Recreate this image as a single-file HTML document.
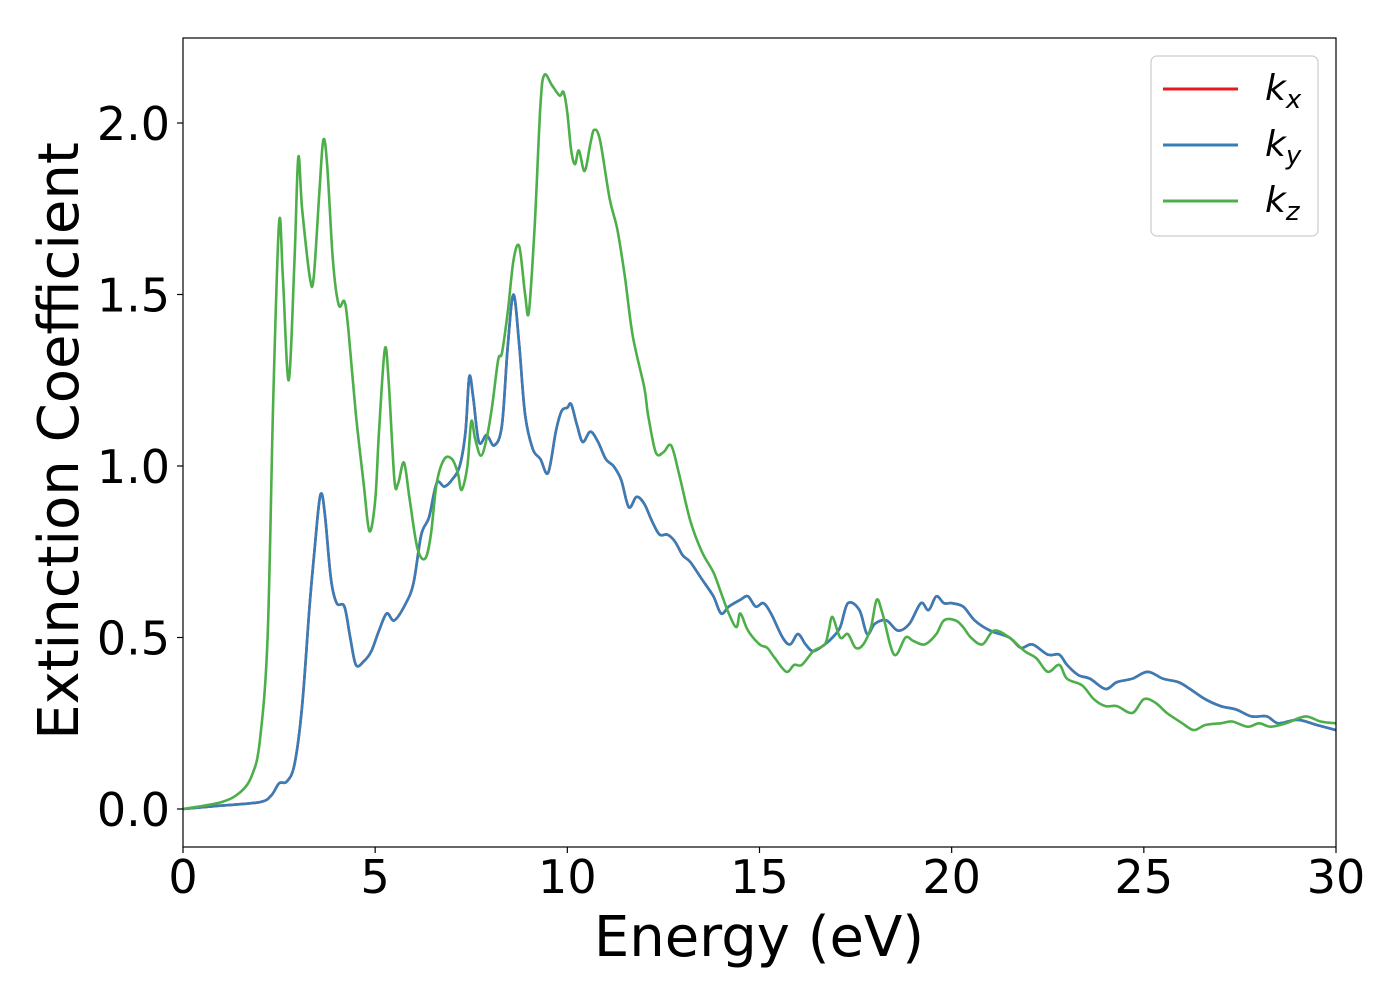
<!DOCTYPE html>
<html><head><meta charset="utf-8"><style>
body{margin:0;background:#fff;}
svg text{font-family:"DejaVu Sans","Liberation Sans",sans-serif;fill:#000;}
</style></head><body>
<svg id="chart" width="1400" height="1000" xmlns="http://www.w3.org/2000/svg">
<rect x="0" y="0" width="1400" height="1000" fill="#fff"/>
<g id="plot"></g>
<g id="axes"></g>
<rect x="183" y="38" width="1153" height="809" fill="none" stroke="#000" stroke-width="1.2"/>
<text x="759" y="956" font-size="56" text-anchor="middle">Energy (eV)</text>
<text transform="translate(78,441) rotate(-90)" font-size="56" text-anchor="middle">Extinction Coefficient</text>
<g>
<rect x="1151" y="56" width="167" height="180" rx="6" fill="#fff" stroke="#ccc" stroke-width="1.2"/>
<line x1="1163" y1="89" x2="1238" y2="89" stroke="#e41a1c" stroke-width="3"/>
<text x="1265" y="100" font-size="36" font-style="italic">k<tspan font-size="26" dy="8">x</tspan></text>
<line x1="1163" y1="145" x2="1238" y2="145" stroke="#377eb8" stroke-width="3"/>
<text x="1265" y="156" font-size="36" font-style="italic">k<tspan font-size="26" dy="8">y</tspan></text>
<line x1="1163" y1="201" x2="1238" y2="201" stroke="#4daf4a" stroke-width="3"/>
<text x="1265" y="212" font-size="36" font-style="italic">k<tspan font-size="26" dy="8">z</tspan></text>
</g>
</svg>
<script>
const xTicks=[0,5,10,15,20,25,30];
const yTicks=[0.0,0.5,1.0,1.5,2.0];
const yTickLabels=["0.0","0.5","1.0","1.5","2.0"];
const kzE=[0,1,1.5,1.8,2.0,2.2,2.35,2.5,2.6,2.75,2.9,3.0,3.1,3.3,3.4,3.55,3.65,3.75,3.9,4.05,4.2,4.3,4.5,4.7,4.85,5.0,5.1,5.25,5.35,5.5,5.6,5.75,5.9,6.1,6.3,6.45,6.6,6.8,7.0,7.15,7.25,7.4,7.5,7.6,7.75,7.9,8.05,8.2,8.3,8.45,8.6,8.75,8.9,9.0,9.15,9.3,9.4,9.6,9.8,9.9,10.0,10.1,10.2,10.3,10.45,10.6,10.7,10.85,11.1,11.3,11.5,11.7,12.0,12.1,12.3,12.5,12.7,12.9,13.2,13.5,13.8,14.0,14.2,14.4,14.5,14.7,15.0,15.2,15.4,15.7,15.9,16.1,16.4,16.7,16.8,16.9,17.1,17.3,17.5,17.7,17.9,18.05,18.2,18.5,18.8,19.0,19.3,19.6,19.8,20.1,20.3,20.5,20.8,21.1,21.5,21.9,22.2,22.5,22.8,23.0,23.4,23.7,24.0,24.3,24.7,25.0,25.3,25.6,26.0,26.3,26.6,27.0,27.3,27.7,28.0,28.3,28.7,29.2,29.6,30];
const kzV=[0,0.02,0.05,0.1,0.2,0.5,1.2,1.71,1.55,1.25,1.6,1.9,1.75,1.55,1.55,1.8,1.95,1.88,1.6,1.47,1.48,1.4,1.15,0.95,0.81,0.9,1.1,1.34,1.25,0.96,0.95,1.01,0.9,0.76,0.73,0.8,0.95,1.02,1.02,0.98,0.93,1.0,1.13,1.08,1.03,1.08,1.18,1.31,1.33,1.45,1.6,1.64,1.5,1.45,1.7,2.05,2.14,2.11,2.08,2.09,2.03,1.92,1.88,1.92,1.86,1.94,1.98,1.95,1.78,1.69,1.55,1.38,1.23,1.15,1.04,1.04,1.06,0.98,0.84,0.75,0.69,0.63,0.57,0.53,0.57,0.52,0.48,0.47,0.44,0.4,0.42,0.42,0.46,0.48,0.52,0.56,0.5,0.51,0.47,0.48,0.53,0.61,0.57,0.45,0.5,0.49,0.48,0.51,0.55,0.55,0.53,0.5,0.48,0.52,0.5,0.46,0.44,0.4,0.42,0.38,0.36,0.32,0.3,0.3,0.28,0.32,0.31,0.28,0.25,0.23,0.245,0.25,0.255,0.24,0.25,0.24,0.25,0.27,0.255,0.25];
const kxyE=[0,1,2,2.3,2.5,2.7,2.9,3.1,3.3,3.5,3.6,3.7,3.85,4.0,4.2,4.35,4.5,4.7,4.9,5.1,5.3,5.5,5.8,6.0,6.2,6.4,6.6,6.8,7.0,7.2,7.35,7.45,7.55,7.7,7.9,8.1,8.3,8.45,8.6,8.75,8.9,9.1,9.3,9.5,9.7,9.85,10.0,10.1,10.25,10.4,10.6,10.8,11.0,11.2,11.4,11.6,11.8,12.0,12.2,12.4,12.6,12.8,13.0,13.2,13.5,13.8,14.0,14.2,14.5,14.7,14.9,15.1,15.3,15.6,15.8,16.0,16.2,16.4,16.7,16.9,17.1,17.3,17.6,17.8,18.0,18.3,18.6,18.9,19.2,19.4,19.6,19.8,20.0,20.3,20.6,21.0,21.5,21.8,22.1,22.5,22.8,23.0,23.3,23.6,24.0,24.3,24.7,25.1,25.5,25.9,26.2,26.6,27.0,27.4,27.8,28.2,28.5,29.0,29.5,30];
const kxV=[0,0.01,0.02,0.04,0.075,0.08,0.13,0.3,0.6,0.85,0.92,0.85,0.67,0.6,0.59,0.5,0.42,0.43,0.46,0.52,0.57,0.55,0.6,0.66,0.8,0.85,0.95,0.94,0.96,1.0,1.1,1.26,1.2,1.07,1.09,1.06,1.12,1.35,1.5,1.35,1.15,1.05,1.02,0.98,1.1,1.16,1.17,1.18,1.12,1.07,1.1,1.07,1.02,1.0,0.96,0.88,0.91,0.89,0.84,0.8,0.8,0.78,0.74,0.72,0.67,0.62,0.57,0.59,0.61,0.62,0.59,0.6,0.57,0.5,0.48,0.51,0.48,0.46,0.48,0.5,0.53,0.6,0.58,0.51,0.54,0.55,0.52,0.54,0.6,0.58,0.62,0.6,0.6,0.59,0.55,0.52,0.5,0.47,0.48,0.45,0.45,0.42,0.39,0.38,0.35,0.37,0.38,0.4,0.38,0.37,0.35,0.32,0.3,0.29,0.27,0.27,0.25,0.26,0.245,0.23];
const kyV=kxV.slice();
const NS="http://www.w3.org/2000/svg";
const X0=183,X1=1336,XMIN=0,XMAX=30,Y0=809,YPER=343;
function sx(v){return X0+(v-XMIN)/(XMAX-XMIN)*(X1-X0);}
function sy(v){return Y0-v*YPER;}
function smooth(E,V){
  const p=E.map((e,i)=>[sx(e),sy(V[i])]);
  let d="M"+p[0][0].toFixed(1)+","+p[0][1].toFixed(1);
  for(let i=0;i<p.length-1;i++){
    const a=p[Math.max(i-1,0)],b=p[i],c=p[i+1],n=p[Math.min(i+2,p.length-1)];
    const c1=[b[0]+(c[0]-a[0])/6,b[1]+(c[1]-a[1])/6],c2=[c[0]-(n[0]-b[0])/6,c[1]-(n[1]-b[1])/6];
    d+="C"+c1[0].toFixed(1)+","+c1[1].toFixed(1)+" "+c2[0].toFixed(1)+","+c2[1].toFixed(1)+" "+c[0].toFixed(1)+","+c[1].toFixed(1);
  }
  return d;
}
const plot=document.getElementById('plot');
const clip=document.createElementNS(NS,'clipPath');clip.setAttribute('id','cp');
const cr=document.createElementNS(NS,'rect');cr.setAttribute('x',183);cr.setAttribute('y',38);cr.setAttribute('width',1153);cr.setAttribute('height',809);
clip.appendChild(cr);plot.appendChild(clip);
function addLine(E,V,color,name){
  const p=document.createElementNS(NS,'path');
  
  
  p.setAttribute('d',smooth(E,V));p.setAttribute('fill','none');p.setAttribute('stroke',color);
  p.setAttribute('stroke-width','2.6');p.setAttribute('stroke-linejoin','round');p.setAttribute('clip-path','url(#cp)');
  plot.appendChild(p);
}
addLine(kxyE,kxV,'#e41a1c','series-kx');
addLine(kxyE,kyV,'#377eb8','series-ky');
addLine(kzE,kzV,'#4daf4a','series-kz');
const axes=document.getElementById('axes');
xTicks.forEach(t=>{
  const l=document.createElementNS(NS,'line');
  
  
  l.setAttribute('x1',sx(t));l.setAttribute('x2',sx(t));l.setAttribute('y1',847);l.setAttribute('y2',853);l.setAttribute('stroke','#000');l.setAttribute('stroke-width','1.2');
  axes.appendChild(l);
  const tx=document.createElementNS(NS,'text');
  
  
  tx.setAttribute('x',sx(t));tx.setAttribute('y',893);tx.setAttribute('font-size','46');tx.setAttribute('text-anchor','middle');
  tx.textContent=String(t);axes.appendChild(tx);
});
yTicks.forEach((t,i)=>{
  const l=document.createElementNS(NS,'line');
  
  
  l.setAttribute('x1',177);l.setAttribute('x2',183);l.setAttribute('y1',sy(t));l.setAttribute('y2',sy(t));l.setAttribute('stroke','#000');l.setAttribute('stroke-width','1.2');
  axes.appendChild(l);
  const tx=document.createElementNS(NS,'text');
  
  
  tx.setAttribute('x',170);tx.setAttribute('y',sy(t)+17);tx.setAttribute('font-size','46');tx.setAttribute('text-anchor','end');
  tx.textContent=yTickLabels[i];axes.appendChild(tx);
});
</script>
</body></html>
